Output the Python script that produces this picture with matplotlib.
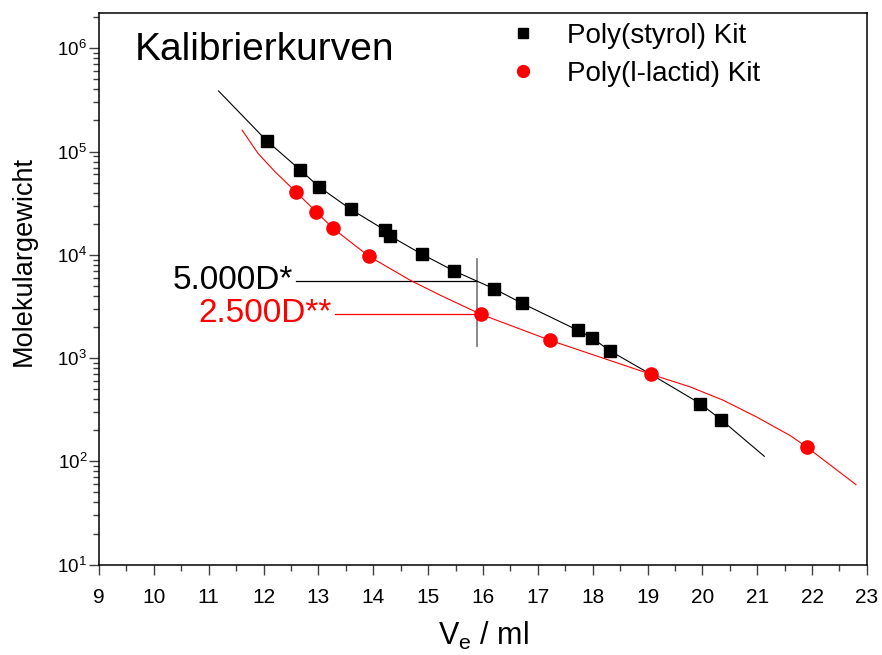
# Kalibrierkurven GPC: Poly(styrol) vs Poly(l-lactid)
import matplotlib
matplotlib.use("Agg")
import matplotlib.pyplot as plt
from matplotlib.ticker import MultipleLocator, LogLocator

plt.rcParams['font.family'] = ['Liberation Sans', 'DejaVu Sans']
plt.rcParams['mathtext.default'] = 'regular'

# Messpunkte
ps_ve = [12.06, 12.66, 13.01, 13.59, 14.21, 14.30, 14.88, 15.47, 16.21, 16.72,
         17.73, 17.99, 18.31, 19.96, 20.34]
ps_mw = [1.27e5, 6.7e4, 4.56e4, 2.76e4, 1.74e4, 1.53e4, 1.02e4, 7.0e3, 4.68e3, 3.38e3,
         1.86e3, 1.57e3, 1.18e3, 363, 254]

pla_ve = [12.59, 12.96, 13.27, 13.92, 15.96, 17.22, 19.06, 21.90]
pla_mw = [4.07e4, 2.61e4, 1.80e4, 9.7e3, 2.66e3, 1.49e3, 698, 138]

# Kalibrierkurven
ps_fit_ve = [11.18, 12.06, 12.66, 13.01, 13.59, 14.21, 14.30, 14.88, 15.47, 15.88,
             16.21, 16.72, 17.73, 17.99, 18.31, 19.06, 19.96, 20.34, 21.13]
ps_fit_mw = [3.86e5, 1.27e5, 6.7e4, 4.56e4, 2.76e4, 1.74e4, 1.53e4, 1.02e4, 7.0e3, 5.6e3,
             4.68e3, 3.38e3, 1.86e3, 1.57e3, 1.18e3, 698, 363, 254, 112]

pla_fit_ve = [11.61, 11.90, 12.21, 12.59, 12.96, 13.27, 13.92, 14.67, 15.22, 15.96, 17.22,
              19.06, 19.78, 20.38, 20.99, 21.60, 21.90, 22.80]
pla_fit_mw = [1.61e5, 9.6e4, 6.37e4, 4.07e4, 2.61e4, 1.80e4, 9.7e3, 5.69e3, 4.07e3, 2.66e3, 1.49e3,
              698, 526, 391, 269, 178, 138, 59.6]

# Markierung bei Ve = 15.89 ml
mark_ve = 15.89
mark_range = [1.32e3, 9.1e3]
ps_mark_mw = 5.6e3
pla_mark_mw = 2.69e3

fig = plt.figure(figsize=(8.82, 6.55), dpi=100)
ax = fig.add_axes([0.1122, 0.1379, 0.8707, 0.8427])

ax.plot(ps_fit_ve, ps_fit_mw, color='black', lw=0.8, zorder=2)
ax.plot(pla_fit_ve, pla_fit_mw, color='red', lw=0.8, zorder=2)
ax.plot(ps_ve, ps_mw, 's', color='black', ms=8.5, ls='none', label='Poly(styrol) Kit', zorder=3)
ax.plot(pla_ve, pla_mw, 'o', color='red', ms=9.5, ls='none', label='Poly(l-lactid) Kit', zorder=3)

# Hilfslinien
ax.plot([mark_ve, mark_ve], mark_range, color='gray', lw=1.3, zorder=1)
ax.plot([12.59, mark_ve], [ps_mark_mw, ps_mark_mw], color='black', lw=0.9, zorder=1)
ax.plot([13.30, mark_ve], [pla_mark_mw, pla_mark_mw], color='red', lw=0.9, zorder=1)
ax.text(12.54, ps_mark_mw, '5.000D*', ha='right', va='center', fontsize=24, color='black')
ax.text(13.24, pla_mark_mw, '2.500D**', ha='right', va='center', fontsize=24, color='red')

ax.text(0.047, 0.914, 'Kalibrierkurven', transform=ax.transAxes, fontsize=28,
        ha='left', va='baseline')

ax.set_yscale('log')
ax.set_xlim(9, 23)
ax.set_ylim(10, 2.21e6)
ax.xaxis.set_major_locator(MultipleLocator(1))
ax.xaxis.set_minor_locator(MultipleLocator(0.5))
ax.yaxis.set_major_locator(LogLocator(base=10, numticks=10))
ax.yaxis.set_minor_locator(LogLocator(base=10, subs=range(2, 10), numticks=20))

for s in ax.spines.values():
    s.set_linewidth(1.1)
ax.tick_params(axis='both', which='major', direction='out', length=7.5, width=1.0,
               color='#404040')
ax.tick_params(axis='both', which='minor', direction='out', length=4, width=1.0,
               color='#404040')
ax.tick_params(axis='y', which='major', pad=1, labelsize=13.5)
ax.tick_params(axis='x', which='major', pad=9, labelsize=15)

ax.set_xlabel('V$_e$ / ml', fontsize=22)
ax.set_ylabel('Molekulargewicht', fontsize=19.5)
ax.xaxis.set_label_coords(0.5, -0.1)
ax.yaxis.set_label_coords(-0.081, 0.551)

ax.legend(loc='upper left', bbox_to_anchor=(0.534, 0.982), frameon=False, fontsize=20,
          handlelength=1.0, handletextpad=1.1, labelspacing=0.45, borderpad=0,
          borderaxespad=0, markerscale=0.9)

fig.savefig('out.png', dpi=100)
